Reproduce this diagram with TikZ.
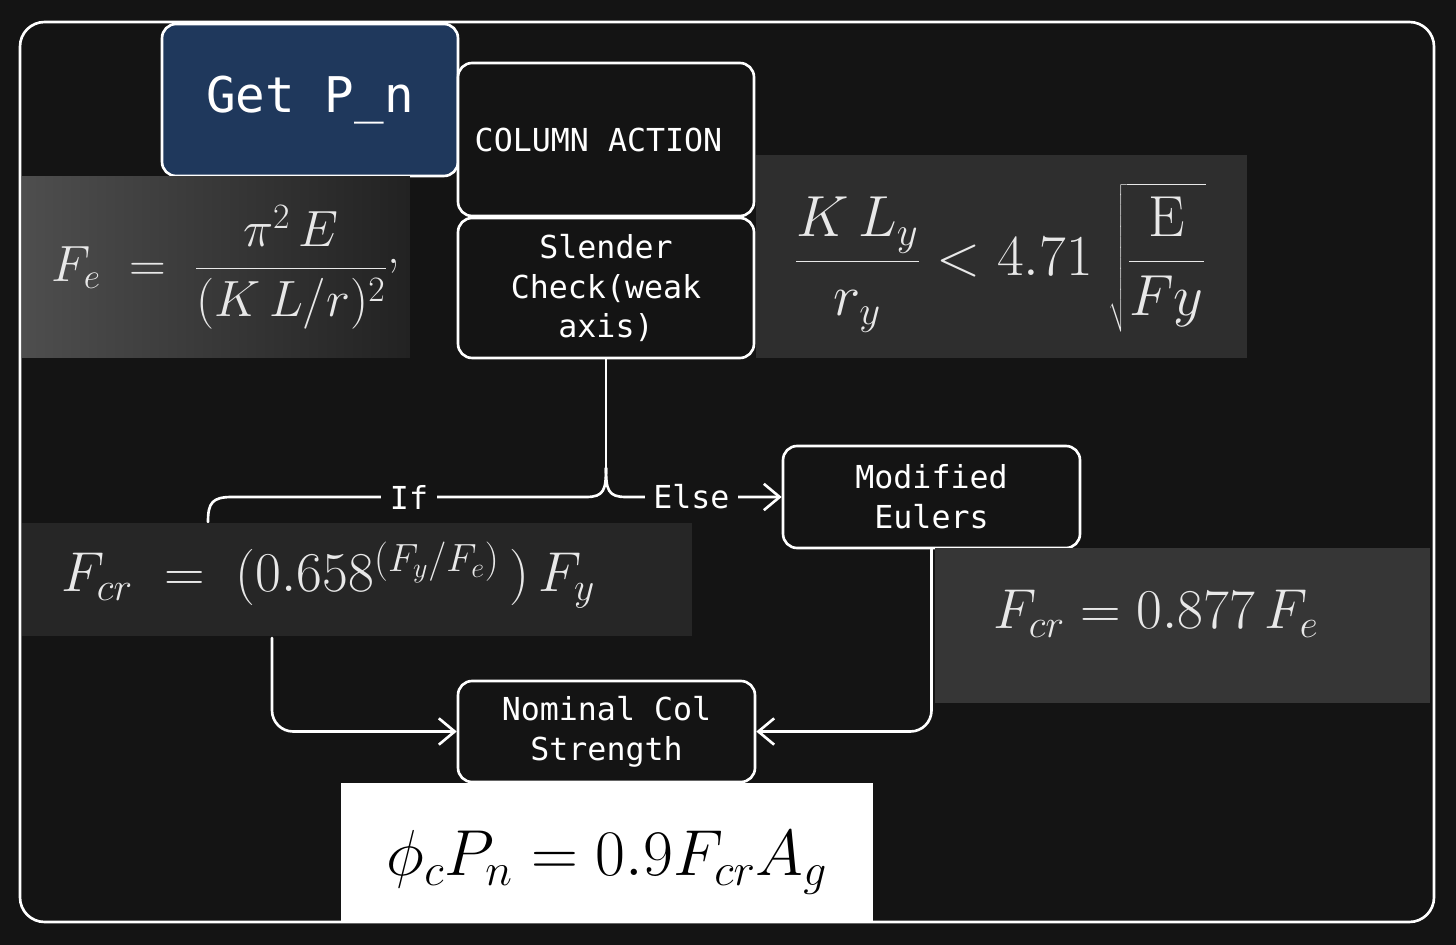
\RequirePackage{fix-cm}
\documentclass[tikz,border=0pt]{standalone}
\usepackage{fontspec}
\newfontfamily\codefont{DejaVu Sans Mono}
\usetikzlibrary{arrows.meta}
\definecolor{fondo}{RGB}{20,20,20}
\definecolor{azul}{RGB}{31,56,92}
\definecolor{grisA}{RGB}{78,78,78}
\definecolor{grisB}{RGB}{34,34,34}
\definecolor{grisC}{RGB}{46,46,46}
\definecolor{grisD}{RGB}{38,38,38}
\definecolor{grisE}{RGB}{54,54,54}
\definecolor{tiza}{RGB}{232,232,232}
\tikzset{
  caja/.style={draw=white, rounded corners=8pt, fill=fondo, text=white, align=center,
    inner sep=0pt, font=\codefont\fontsize{18}{22.7}\selectfont},
  recorte/.style={inner sep=0pt, outer sep=0pt},
  formula/.style={text=tiza, inner sep=0pt},
  etiqueta/.style={fill=fondo, text=white, inner sep=5pt, font=\codefont\fontsize{18}{22}\selectfont},
  flecha/.style={-{Straight Barb[length=9pt,width=15pt]}},
}
\begin{document}
\begin{tikzpicture}[x=0.02cm, y=-0.02cm, line width=1.5pt, line cap=round, line join=round]
  % fondo y marco
  \fill[fondo] (0,0) rectangle (1456,945);
  \draw[white, rounded corners=14pt] (20,22) rectangle (1434,922);
  % las cajas
  \node[caja, fill=azul, minimum width=5.92cm, minimum height=3.04cm,
        font=\codefont\fontsize{28}{34}\selectfont] (getpn) at (310,100) {\raisebox{-3pt}{Get P\_n}};
  \node[caja, minimum width=5.92cm, minimum height=3.06cm] (accion) at (606,139.5) {COLUMN ACTION\hspace*{0.3cm}};
  \node[caja, minimum width=5.92cm, minimum height=2.8cm] (esbelto) at (606,288) {Slender\\Check(weak\\axis)};
  \node[caja, minimum width=5.94cm, minimum height=2.04cm] (euler) at (931.5,497) {Modified\\Eulers};
  \node[caja, minimum width=5.94cm, minimum height=2.02cm] (nominal) at (606.5,731.5) {Nominal Col\\Strength};
  % las ramas
  \coordinate (rama) at (606,468);
  \coordinate (sientra) at (208,522);
  \coordinate (baja) at (272,638);
  \draw[white] (esbelto.south) -- (rama);
  \draw[white] (rama) .. controls (606,490) and (604,497) .. (586,497)
    -- node[etiqueta] (si) {If} (232,497) .. controls (212,497) and (208,503) .. (sientra);
  \draw[white, flecha] (rama) .. controls (606,490) and (608,497) .. (626,497)
    -- node[etiqueta, pos=0.42] (sino) {Else} (euler.west);
  \draw[white, flecha, rounded corners=12pt] (baja) |- (nominal.west);
  \draw[white, flecha, rounded corners=12pt] (euler.south) |- (nominal.east);
  % los recortes de las formulas
  \node[recorte, minimum width=7.76cm, minimum height=3.64cm, left color=grisA, right color=grisB] (imgfe) at (216,267) {};
  \node[formula, font=\fontsize{29}{34}\selectfont] (fe) at (226,267)
    {$\displaystyle F_e \;=\; \frac{\pi^2\,E}{(K\,L/r)^2}\raisebox{0.35em}{,}$};
  \node[recorte, fill=grisC, minimum width=9.82cm, minimum height=4.06cm] (imgesb) at (1001.5,256.5) {};
  \node[formula, font=\fontsize{33}{38}\selectfont] (esb) at (1000,258)
    {$\displaystyle \frac{K\,L_y}{r_y} < 4.71\;\sqrt{\frac{\mathrm{E}}{Fy}}$};
  \node[recorte, fill=grisD, minimum width=13.4cm, minimum height=2.26cm] (imgfcr) at (357,579.5) {};
  \node[formula, anchor=west, font=\fontsize{32}{38}\selectfont] (fcr) at (60,575)
    {$F_{cr} \;=\; (0.658^{(F_y/F_e)}\,)\,F_y$};
  \node[recorte, fill=grisE, minimum width=9.9cm, minimum height=3.1cm] (imgeu) at (1182.5,625.5) {};
  \node[formula, font=\fontsize{32}{38}\selectfont] (eu) at (1156,614) {$F_{cr} = 0.877\,F_e$};
  \node[recorte, fill=white, minimum width=10.64cm, minimum height=2.78cm] (imgpn) at (607,852.5) {};
  \node[formula, text=black, font=\fontsize{37}{44}\selectfont] (pn) at (607,862) {$\phi_c P_n = 0.9F_{cr}A_g$};
\end{tikzpicture}
\end{document}
